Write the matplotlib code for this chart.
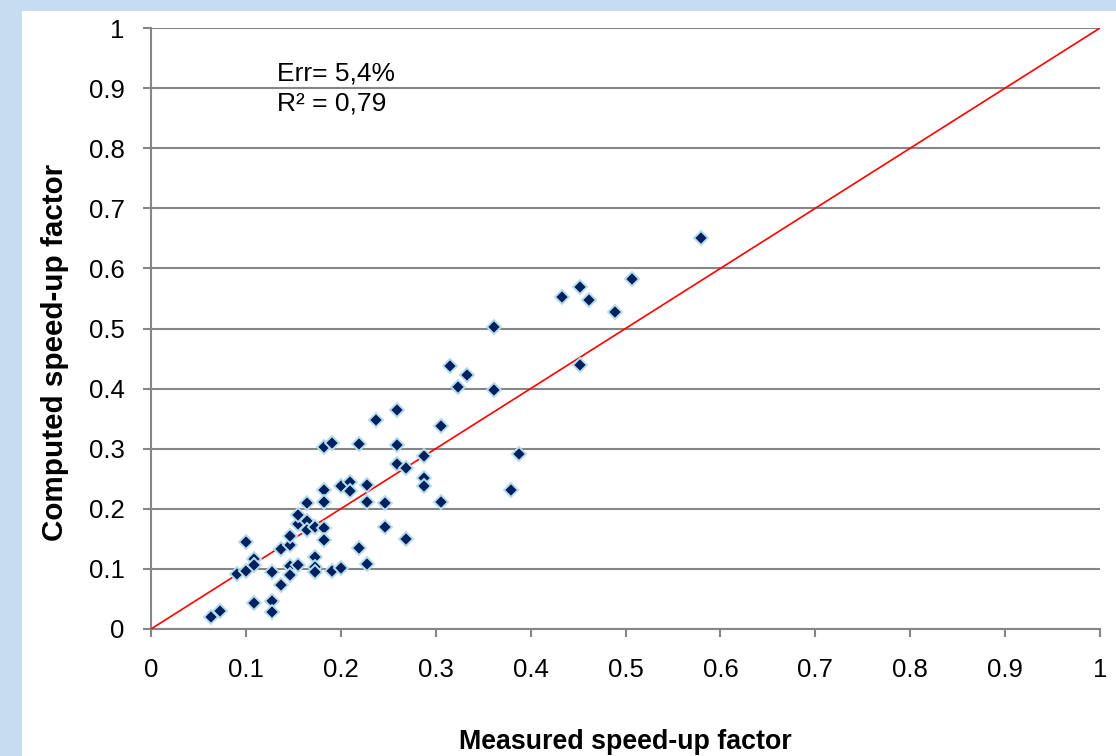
import numpy as np
import matplotlib
matplotlib.use('Agg')
import matplotlib.pyplot as plt
from matplotlib.patches import Rectangle

plt.rcParams['font.family'] = ['Liberation Sans', 'DejaVu Sans']

# measured vs computed speed-up factors
measured = [0.063, 0.073, 0.091, 0.100, 0.100, 0.109, 0.109, 0.109, 0.127, 0.127,
            0.127, 0.137, 0.137, 0.146, 0.146, 0.146, 0.146, 0.155, 0.155, 0.155,
            0.164, 0.164, 0.164, 0.173, 0.173, 0.173, 0.173, 0.182, 0.182, 0.182,
            0.182, 0.182, 0.191, 0.191, 0.200, 0.200, 0.210, 0.210, 0.219, 0.219,
            0.228, 0.228, 0.228, 0.237, 0.247, 0.247, 0.259, 0.259, 0.259, 0.269,
            0.269, 0.288, 0.288, 0.288, 0.306, 0.306, 0.315, 0.324, 0.333, 0.361,
            0.361, 0.379, 0.388, 0.433, 0.452, 0.452, 0.462, 0.489, 0.507, 0.580]
computed = [0.020, 0.030, 0.092, 0.097, 0.145, 0.117, 0.107, 0.043, 0.095, 0.046,
            0.029, 0.073, 0.133, 0.139, 0.155, 0.105, 0.090, 0.175, 0.189, 0.107,
            0.179, 0.164, 0.209, 0.170, 0.119, 0.103, 0.095, 0.303, 0.231, 0.211,
            0.168, 0.148, 0.310, 0.097, 0.102, 0.238, 0.244, 0.229, 0.308, 0.135,
            0.240, 0.212, 0.108, 0.348, 0.209, 0.169, 0.364, 0.306, 0.275, 0.268,
            0.149, 0.288, 0.252, 0.238, 0.337, 0.212, 0.437, 0.403, 0.423, 0.502,
            0.398, 0.232, 0.291, 0.552, 0.569, 0.440, 0.548, 0.527, 0.582, 0.651]

ticks = np.arange(0, 1.01, 0.1)
tick_labels = ['0', '0.1', '0.2', '0.3', '0.4', '0.5', '0.6', '0.7', '0.8', '0.9', '1']

fig = plt.figure(figsize=(11.16, 7.56), dpi=100)
fig.patch.set_facecolor('#C6DCF0')
# white chart area inside the blue frame
fig.patches.append(Rectangle((22/1116, 0), 1 - 22/1116, 1 - 11/756,
                             transform=fig.transFigure, facecolor='white',
                             edgecolor='none', zorder=-10))

ax = fig.add_axes([151/1116, 1 - 629/756, 949/1116, 601/756])
ax.set_facecolor('none')

ax.plot([0, 1], [0, 1], color='#FF0000', lw=1.2, zorder=3)
ax.plot(measured, computed, linestyle='none', marker='D', markersize=7.3,
        markerfacecolor='#002060', markeredgecolor='#B7DDE8', markeredgewidth=1.4,
        zorder=4)

ax.set_xlim(0, 1)
ax.set_ylim(0, 1)
ax.set_xticks(ticks)
ax.set_xticklabels(tick_labels)
ax.set_yticks(ticks)
ax.set_yticklabels(tick_labels)

ax.grid(axis='y', color='#868686', lw=1.5, zorder=1)
ax.set_axisbelow(True)
for s in ['top', 'right']:
    ax.spines[s].set_visible(False)
for s in ['left', 'bottom']:
    ax.spines[s].set_color('#868686')
    ax.spines[s].set_linewidth(1.5)
ax.tick_params(axis='x', length=6, width=1.5, color='#868686', labelsize=18.5, pad=15)
ax.tick_params(axis='y', length=6, width=1.5, color='#868686', labelsize=18.5, pad=13)

ax.set_xlabel('Measured speed-up factor', fontsize=19.3, fontweight='bold', labelpad=34)
ax.set_ylabel('Computed speed-up factor', fontsize=21.3, fontweight='bold')
ax.yaxis.set_label_coords(-0.086, 0.461)

ax.text(0.133, 0.924, 'Err= 5,4%', fontsize=19, va='center', ha='left')
ax.text(0.133, 0.874, 'R² = 0,79', fontsize=19, va='center', ha='left')

plt.savefig('out.png', dpi=100, facecolor=fig.get_facecolor())
